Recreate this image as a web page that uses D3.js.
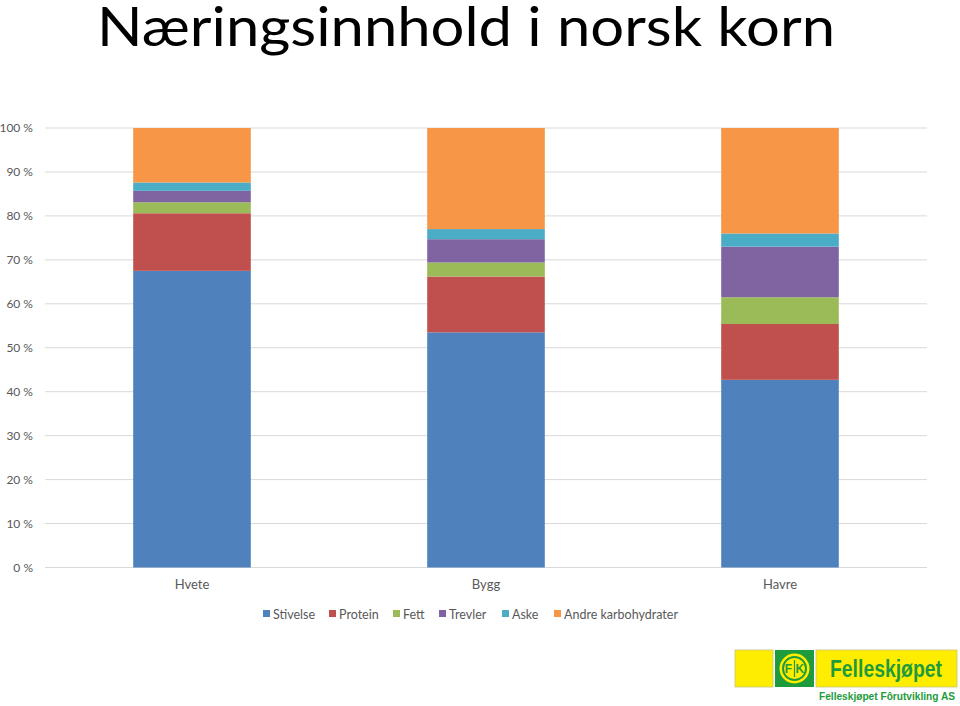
<!DOCTYPE html>
<html><head><meta charset="utf-8">
<script src="https://cdn.jsdelivr.net/npm/d3@7"></script>
<style>body{margin:0;background:#fff}svg{display:block}</style>
</head><body>
<script>
const categories = ["Hvete", "Bygg", "Havre"];
const seriesNames = ["Stivelse", "Protein", "Fett", "Trevler", "Aske", "Andre karbohydrater"];
const stivelse = [67.5, 53.5, 42.7];
const protein = [13.1, 12.7, 12.7];
const fett = [2.5, 3.2, 6.1];
const trevler = [2.6, 5.3, 11.5];
const aske = [1.9, 2.3, 3.0];
const andre = [12.4, 23.0, 24.0];
const yTicks = [0, 10, 20, 30, 40, 50, 60, 70, 80, 90, 100];
const colors = ["#4F81BD", "#C0504D", "#9BBB59", "#8064A2", "#4BACC6", "#F79646"];

const seriesValues = [stivelse, protein, fett, trevler, aske, andre];
const rows = categories.map((c, i) => {
  const r = {cat: c};
  seriesNames.forEach((s, j) => r[s] = seriesValues[j][i]);
  return r;
});

const W = 960, H = 706;
const svg = d3.select("body").append("svg").attr("width", W).attr("height", H);
const font = "Lato, 'Open Sans', sans-serif";

svg.append("text").attr("x", 97).attr("y", 46)
  .attr("font-family", font).attr("font-weight", 400).attr("font-size", 55)
  .attr("textLength", 738).attr("lengthAdjust", "spacingAndGlyphs")
  .attr("fill", "#000").text("Næringsinnhold i norsk korn");

const x = d3.scaleBand().domain(categories).range([45, 927]).paddingInner(0.6).paddingOuter(0.3);
const y = d3.scaleLinear().domain([0, 100]).range([567.5, 128]);

// grid
svg.append("g").selectAll("line").data(yTicks).join("line")
  .attr("x1", 45).attr("x2", 927)
  .attr("y1", d => y(d)).attr("y2", d => y(d))
  .attr("stroke", "#d9d9d9").attr("stroke-width", 1);

// y labels
svg.append("g").selectAll("text").data(yTicks).join("text")
  .attr("x", 33).attr("y", d => y(d)).attr("dy", "0.35em")
  .attr("text-anchor", "end").attr("font-family", font).attr("font-size", 12)
  .attr("fill", "#595959").text(d => d + " %");

const stack = d3.stack().keys(seriesNames)(rows);
svg.append("g").selectAll("g").data(stack).join("g")
  .attr("fill", (d, i) => colors[i])
  .selectAll("rect").data(d => d).join("rect")
  .attr("x", d => x(d.data.cat)).attr("width", x.bandwidth())
  .attr("y", d => y(d[1])).attr("height", d => y(d[0]) - y(d[1]));

// x labels
svg.append("g").selectAll("text").data(categories).join("text")
  .attr("x", d => x(d) + x.bandwidth() / 2).attr("y", 589)
  .attr("text-anchor", "middle").attr("font-family", font).attr("font-size", 13)
  .attr("fill", "#595959").text(d => d);

// legend
const legend = svg.append("g").attr("font-family", font).attr("font-size", 12.5).attr("fill", "#595959");
const legX = [263, 329, 393, 439, 502, 554];
seriesNames.forEach((s, i) => {
  legend.append("rect").attr("x", legX[i]).attr("y", 610).attr("width", 7).attr("height", 7).attr("fill", colors[i]);
  legend.append("text").attr("x", legX[i] + 10).attr("y", 618.5).text(s);
});

// logo
const yel = "#FFED00", grn = "#1E9B3C";
const logo = svg.append("g");
logo.append("rect").attr("x", 735).attr("y", 650).attr("width", 38).attr("height", 37).attr("fill", yel).attr("stroke", "#c9c27a").attr("stroke-width", 0.8);
logo.append("rect").attr("x", 775).attr("y", 650).attr("width", 39).attr("height", 37).attr("fill", grn);
logo.append("rect").attr("x", 816).attr("y", 650).attr("width", 141).attr("height", 37).attr("fill", yel).attr("stroke", "#c9c27a").attr("stroke-width", 0.8);
logo.append("circle").attr("cx", 794.5).attr("cy", 668.5).attr("r", 15).attr("fill", yel);
logo.append("circle").attr("cx", 794.5).attr("cy", 668.5).attr("r", 12.5).attr("fill", grn);
logo.append("circle").attr("cx", 794.5).attr("cy", 668.5).attr("r", 10.5).attr("fill", yel);
logo.append("text").attr("x", 794.5).attr("y", 673).attr("text-anchor", "middle")
  .attr("font-family", "'Liberation Sans', Arial, sans-serif").attr("font-weight", "bold").attr("font-size", 12)
  .attr("fill", grn).text("F K");
logo.append("line").attr("x1", 794.5).attr("x2", 794.5).attr("y1", 660).attr("y2", 677).attr("stroke", grn).attr("stroke-width", 1.2);
logo.append("text").attr("x", 886).attr("y", 677).attr("text-anchor", "middle")
  .attr("font-family", "'Liberation Sans', Arial, sans-serif").attr("font-weight", "bold").attr("font-size", 23)
  .attr("fill", grn).attr("textLength", 112).attr("lengthAdjust", "spacingAndGlyphs").text("Felleskjøpet");
logo.append("text").attr("x", 819).attr("y", 700)
  .attr("font-family", "'Liberation Sans', Arial, sans-serif").attr("font-weight", "bold").attr("font-size", 10.5)
  .attr("fill", grn).attr("textLength", 136).attr("lengthAdjust", "spacingAndGlyphs").text("Felleskjøpet Fôrutvikling AS");
</script>
</body></html>
